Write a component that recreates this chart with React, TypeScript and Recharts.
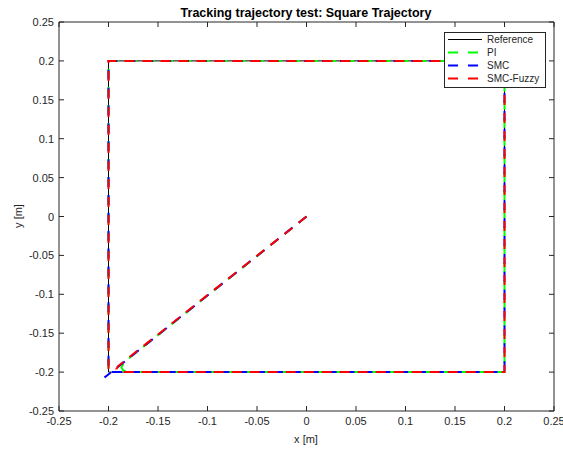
import { LineChart, Line, XAxis, YAxis, Legend } from "recharts";

const axisTicks = [-0.25, -0.2, -0.15, -0.1, -0.05, 0, 0.05, 0.1, 0.15, 0.2, 0.25];

const referenceX = [-0.2, 0.2, 0.2, -0.2, -0.2];
const referenceY = [-0.2, -0.2, 0.2, 0.2, -0.2];

const piX = [0, -0.184, -0.187, -0.185, -0.178, 0.2, 0.2, -0.2, -0.2];
const piY = [0, -0.187, -0.194, -0.198, -0.2, -0.2, 0.2, 0.2, -0.2];

const smcX = [0, -0.204, -0.199, 0.2, 0.2, -0.2, -0.2];
const smcY = [0, -0.207, -0.2, -0.2, 0.2, 0.2, -0.2];

const fuzzyX = [0, -0.19, -0.192, -0.189, -0.183, 0.2, 0.2, -0.2, -0.2];
const fuzzyY = [0, -0.192, -0.196, -0.199, -0.2, -0.2, 0.2, 0.2, -0.2];

const toPoints = (xs: number[], ys: number[]) => xs.map((x, i) => ({ x, y: ys[i] }));

const series = [
  { name: "Reference", color: "#000000", width: 1, dash: undefined, data: toPoints(referenceX, referenceY) },
  { name: "PI", color: "#00ff00", width: 2, dash: "10 8.1", data: toPoints(piX, piY) },
  { name: "SMC", color: "#0000ff", width: 2, dash: "10 7.88", data: toPoints(smcX, smcY) },
  { name: "SMC-Fuzzy", color: "#ff0000", width: 2, dash: "10 8", data: toPoints(fuzzyX, fuzzyY) },
];

const INK = "#262626";
const FONT = "'Liberation Sans', Arial, sans-serif";

const fmt = (v: number) => String(Number(v.toFixed(2)));

function BottomTick({ x, y, payload }: any) {
  return (
    <g>
      <line x1={x} y1={y} x2={x} y2={y - 5} stroke={INK} />
      <text x={x} y={y + 14} textAnchor="middle" fontSize={11} fill={INK} fontFamily={FONT}>
        {fmt(payload.value)}
      </text>
    </g>
  );
}

function LeftTick({ x, y, payload }: any) {
  return (
    <g>
      <line x1={x} y1={y} x2={x + 5} y2={y} stroke={INK} />
      <text x={x - 5} y={y + 4} textAnchor="end" fontSize={11} fill={INK} fontFamily={FONT}>
        {fmt(payload.value)}
      </text>
    </g>
  );
}

function TopTick({ x, y }: any) {
  return <line x1={x} y1={y} x2={x} y2={y + 5} stroke={INK} />;
}

function RightTick({ x, y }: any) {
  return <line x1={x} y1={y} x2={x - 5} y2={y} stroke={INK} />;
}

function LegendBox() {
  return (
    <svg width={102} height={56} style={{ display: "block" }}>
      <rect x={0.5} y={0.5} width={101} height={55} fill="#fff" stroke={INK} />
      {series.map((s, i) => {
        const cy = 7.5 + i * 13;
        return (
          <g key={s.name}>
            <line
              x1={4}
              x2={38}
              y1={cy}
              y2={cy}
              stroke={s.color}
              strokeWidth={s.width}
              strokeDasharray={s.dash ? "10 10" : undefined}
            />
            <text x={43} y={cy + 3.5} fontSize={10} fill={INK} fontFamily={FONT}>
              {s.name}
            </text>
          </g>
        );
      })}
    </svg>
  );
}

export default function App() {
  return (
    <div style={{ position: "absolute", left: 0, top: 0, background: "#fff" }}>
      <LineChart width={563} height={450} margin={{ top: 0, right: 0, bottom: 0, left: 0 }}>
        <XAxis
          xAxisId="b"
          dataKey="x"
          type="number"
          orientation="bottom"
          domain={[-0.25, 0.25]}
          ticks={axisTicks}
          interval={0}
          allowDataOverflow
          height={39}
          tickSize={0}
          tickMargin={0}
          tickLine={false}
          axisLine={{ stroke: INK }}
          tick={<BottomTick />}
        />
        <XAxis
          xAxisId="t"
          dataKey="x"
          type="number"
          orientation="top"
          domain={[-0.25, 0.25]}
          ticks={axisTicks}
          interval={0}
          allowDataOverflow
          height={22}
          tickSize={0}
          tickMargin={0}
          tickLine={false}
          axisLine={{ stroke: INK }}
          tick={<TopTick />}
        />
        <YAxis
          yAxisId="l"
          dataKey="y"
          type="number"
          orientation="left"
          domain={[-0.25, 0.25]}
          ticks={axisTicks}
          interval={0}
          allowDataOverflow
          width={59}
          tickSize={0}
          tickMargin={0}
          tickLine={false}
          axisLine={{ stroke: INK }}
          tick={<LeftTick />}
        />
        <YAxis
          yAxisId="r"
          dataKey="y"
          type="number"
          orientation="right"
          domain={[-0.25, 0.25]}
          ticks={axisTicks}
          interval={0}
          allowDataOverflow
          width={9}
          tickSize={0}
          tickMargin={0}
          tickLine={false}
          axisLine={{ stroke: INK }}
          tick={<RightTick />}
        />
        {series.map((s) => (
          <Line
            key={s.name}
            xAxisId="b"
            yAxisId="l"
            data={s.data}
            dataKey="y"
            name={s.name}
            type="linear"
            stroke={s.color}
            strokeWidth={s.width}
            strokeDasharray={s.dash}
            dot={false}
            activeDot={false}
            isAnimationActive={false}
          />
        ))}
        <Legend
          layout="vertical"
          align="center"
          verticalAlign="middle"
          wrapperStyle={{ left: 444, top: 32, width: 102, height: 56 }}
          content={() => <LegendBox />}
        />
        <text x={306} y={17} textAnchor="middle" fontSize={12.5} fontWeight="bold" fill="#000" fontFamily={FONT}>
          Tracking trajectory test: Square Trajectory
        </text>
        <text x={306} y={443} textAnchor="middle" fontSize={11} fill={INK} fontFamily={FONT}>
          x [m]
        </text>
        <text
          x={22}
          y={216}
          textAnchor="middle"
          fontSize={11}
          fill={INK}
          fontFamily={FONT}
          transform="rotate(-90 22 216)"
        >
          y [m]
        </text>
      </LineChart>
    </div>
  );
}
